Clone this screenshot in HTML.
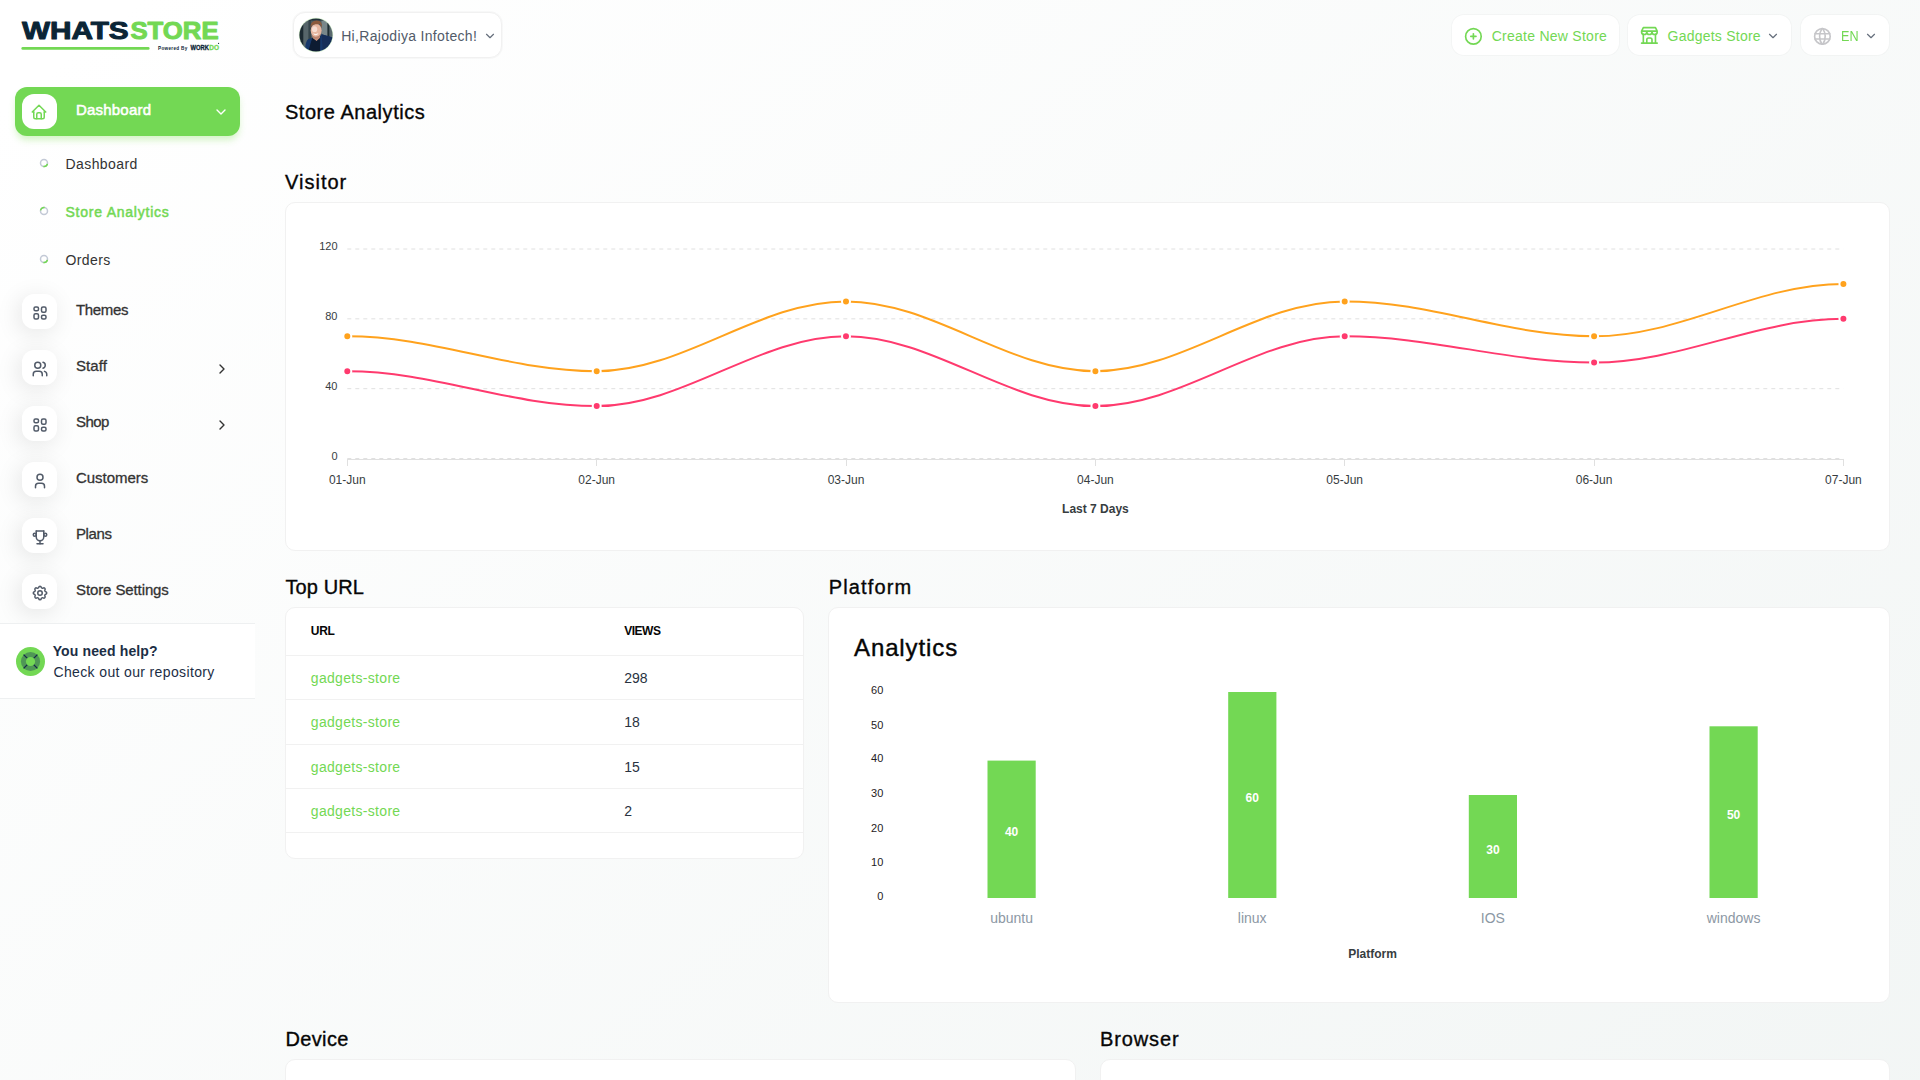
<!DOCTYPE html>
<html lang="en"><head><meta charset="utf-8"><title>Store Analytics</title>
<meta name="viewport" content="width=1920">
<style>
*{box-sizing:border-box;margin:0;padding:0}
html,body{width:1920px;height:1080px;overflow:hidden}
body{position:relative;font-family:"Liberation Sans",sans-serif;
 background:#fff}
.bg{position:absolute;left:0;top:0;width:1920px;height:1550px;background:linear-gradient(141.55deg,rgba(240,244,243,0) 3.46%,#f0f4f3 99.86%)}
.t{position:absolute;white-space:nowrap}
.ic{position:absolute;display:block;overflow:visible}
.abs{position:absolute}
.card{position:absolute;background:#fff;border:1px solid #f1f1f1;border-radius:10px}
.ibox{position:absolute;width:35px;height:35px;border-radius:12px;background:#fff;box-shadow:-3px 4px 23px rgba(0,0,0,0.1)}
.hbtn{position:absolute;background:#fff;border-radius:12px;box-shadow:0 0 0 1px rgba(0,0,0,0.022)}
</style></head><body>
<div class="bg"></div>
<nav aria-label="Sidebar"><svg class="abs" style="left:0;top:0" width="260" height="70" viewBox="0 0 260 70"><text x="21.9" y="38.85" font-family="Liberation Sans, sans-serif" font-weight="700" font-size="24.3" fill="#0b2536" stroke="#0b2536" stroke-width="1" stroke-linejoin="round" textLength="106.8" lengthAdjust="spacingAndGlyphs">WHATS</text><text x="130.4" y="38.85" font-family="Liberation Sans, sans-serif" font-weight="700" font-size="24.3" fill="#73d854" stroke="#73d854" stroke-width="1" stroke-linejoin="round" textLength="88.2" lengthAdjust="spacingAndGlyphs">STORE</text><line x1="22.7" y1="48.4" x2="148.3" y2="48.4" stroke="#73d854" stroke-width="2.6" stroke-linecap="round"/><text x="158" y="50.1" font-family="Liberation Sans, sans-serif" font-weight="700" font-size="4.6" fill="#0b2536" textLength="29.3" lengthAdjust="spacing">Powered By</text><text x="190.6" y="50.1" font-family="Liberation Sans, sans-serif" font-weight="700" font-size="6.4" fill="#0b2536" stroke="#0b2536" stroke-width="0.3" textLength="18.3" lengthAdjust="spacingAndGlyphs">WORK</text><text x="209.3" y="50.1" font-family="Liberation Sans, sans-serif" font-weight="700" font-size="6.4" fill="#73d854" stroke="#73d854" stroke-width="0.3" textLength="9.7" lengthAdjust="spacingAndGlyphs">DO</text><circle cx="218.6" cy="43.4" r="0.55" fill="#0b2536"/></svg>
<div class="abs" style="left:15px;top:87px;width:225px;height:49px;border-radius:12px;background:#73d854;box-shadow:0 5px 7px -1px rgba(111,217,67,0.3)"></div>
<div class="ibox" style="left:22px;top:94px;box-shadow:none"></div>
<svg class="ic" style="left:30.5px;top:103.6px;margin:-0.4px 0 0 -0.4px;" width="18" height="18" viewBox="0 0 24 24" fill="none" stroke="#73d854" stroke-width="2" stroke-linecap="round" stroke-linejoin="round"><polyline points="5 12 3 12 12 3 21 12 19 12"/><path d="M5 12v7a2 2 0 0 0 2 2h10a2 2 0 0 0 2 -2v-7"/><path d="M9 21v-6a2 2 0 0 1 2 -2h2a2 2 0 0 1 2 2v6"/></svg>
<div class="t" style="left:76px;top:99.10px;font-size:15px;line-height:22px;color:#fff;letter-spacing:0.201px;-webkit-text-stroke:0.55px #fff;">Dashboard</div>
<svg class="ic" style="left:212.5px;top:103.6px;" width="16" height="16" viewBox="0 0 24 24" fill="none" stroke="#fff" stroke-width="2.1" stroke-linecap="round" stroke-linejoin="round"><polyline points="6 9 12 15 18 9"/></svg>
<svg class="ic" style="left:38.2px;top:157.4px" width="12" height="12" viewBox="0 0 12 12"><circle cx="6" cy="6" r="3.5" fill="none" stroke="#c3c9d6" stroke-width="1.5"/><path d="M9.38 6.91A3.5 3.5 0 0 1 5.39 9.45" fill="none" stroke="#73d854" stroke-width="1.5"/></svg>
<div class="t" style="left:65.5px;top:153.65px;font-size:14px;line-height:21px;color:#333;letter-spacing:0.412px;">Dashboard</div>
<svg class="ic" style="left:38.2px;top:205.4px" width="12" height="12" viewBox="0 0 12 12"><circle cx="6" cy="6" r="3.5" fill="none" stroke="#c3c9d6" stroke-width="1.5"/><path d="M2.55 5.39A3.5 3.5 0 0 1 6.61 2.55" fill="none" stroke="#73d854" stroke-width="1.5"/></svg>
<div class="t" style="left:65.5px;top:201.65px;font-size:14px;line-height:21px;color:#73d854;letter-spacing:0.765px;-webkit-text-stroke:0.5px #73d854;">Store Analytics</div>
<svg class="ic" style="left:38.2px;top:253.39999999999998px" width="12" height="12" viewBox="0 0 12 12"><circle cx="6" cy="6" r="3.5" fill="none" stroke="#c3c9d6" stroke-width="1.5"/><path d="M9.38 6.91A3.5 3.5 0 0 1 5.39 9.45" fill="none" stroke="#73d854" stroke-width="1.5"/></svg>
<div class="t" style="left:65.5px;top:249.65px;font-size:14px;line-height:21px;color:#333;letter-spacing:0.401px;">Orders</div>
<div class="ibox" style="left:22px;top:294px"></div>
<svg class="ic" style="left:30.5px;top:303.6px;" width="18" height="18" viewBox="0 0 24 24" fill="none" stroke="#525b69" stroke-width="2" stroke-linecap="round" stroke-linejoin="round"><rect x="4" y="4" width="6" height="5" rx="2"/><rect x="4" y="13" width="6" height="7" rx="2"/><rect x="14" y="4" width="6" height="7" rx="2"/><rect x="14" y="15" width="6" height="5" rx="2"/></svg>
<div class="t" style="left:76px;top:299.10px;font-size:15px;line-height:22px;color:#333;letter-spacing:-0.325px;-webkit-text-stroke:0.3px #333;">Themes</div>
<div class="ibox" style="left:22px;top:350px"></div>
<svg class="ic" style="left:30.5px;top:359.6px;" width="18" height="18" viewBox="0 0 24 24" fill="none" stroke="#525b69" stroke-width="2" stroke-linecap="round" stroke-linejoin="round"><circle cx="9" cy="7" r="4"/><path d="M3 21v-2a4 4 0 0 1 4 -4h4a4 4 0 0 1 4 4v2"/><path d="M16 3.13a4 4 0 0 1 0 7.75"/><path d="M21 21v-2a4 4 0 0 0 -3 -3.85"/></svg>
<div class="t" style="left:76px;top:355.10px;font-size:15px;line-height:22px;color:#333;letter-spacing:0.09px;-webkit-text-stroke:0.3px #333;">Staff</div>
<svg class="ic" style="left:213.7px;top:361px;" width="16" height="16" viewBox="0 0 24 24" fill="none" stroke="#333" stroke-width="2.1" stroke-linecap="round" stroke-linejoin="round"><polyline points="9 6 15 12 9 18"/></svg>
<div class="ibox" style="left:22px;top:406px"></div>
<svg class="ic" style="left:30.5px;top:415.6px;" width="18" height="18" viewBox="0 0 24 24" fill="none" stroke="#525b69" stroke-width="2" stroke-linecap="round" stroke-linejoin="round"><rect x="4" y="4" width="6" height="5" rx="2"/><rect x="4" y="13" width="6" height="7" rx="2"/><rect x="14" y="4" width="6" height="7" rx="2"/><rect x="14" y="15" width="6" height="5" rx="2"/></svg>
<div class="t" style="left:76px;top:411.10px;font-size:15px;line-height:22px;color:#333;letter-spacing:-0.585px;-webkit-text-stroke:0.3px #333;">Shop</div>
<svg class="ic" style="left:213.7px;top:417px;" width="16" height="16" viewBox="0 0 24 24" fill="none" stroke="#333" stroke-width="2.1" stroke-linecap="round" stroke-linejoin="round"><polyline points="9 6 15 12 9 18"/></svg>
<div class="ibox" style="left:22px;top:462px"></div>
<svg class="ic" style="left:30.5px;top:471.6px;" width="18" height="18" viewBox="0 0 24 24" fill="none" stroke="#525b69" stroke-width="2" stroke-linecap="round" stroke-linejoin="round"><circle cx="12" cy="7" r="4"/><path d="M6 21v-2a4 4 0 0 1 4 -4h4a4 4 0 0 1 4 4v2"/></svg>
<div class="t" style="left:76px;top:467.10px;font-size:15px;line-height:22px;color:#333;letter-spacing:-0.039px;-webkit-text-stroke:0.3px #333;">Customers</div>
<div class="ibox" style="left:22px;top:518px"></div>
<svg class="ic" style="left:30.5px;top:527.6px;" width="18" height="18" viewBox="0 0 24 24" fill="none" stroke="#525b69" stroke-width="2" stroke-linecap="round" stroke-linejoin="round"><line x1="8" y1="21" x2="16" y2="21"/><line x1="12" y1="17" x2="12" y2="21"/><line x1="7" y1="4" x2="17" y2="4"/><path d="M17 4v8a5 5 0 0 1 -10 0v-8"/><circle cx="5" cy="9" r="2"/><circle cx="19" cy="9" r="2"/></svg>
<div class="t" style="left:76px;top:523.10px;font-size:15px;line-height:22px;color:#333;letter-spacing:-0.385px;-webkit-text-stroke:0.3px #333;">Plans</div>
<div class="ibox" style="left:22px;top:574px"></div>
<svg class="ic" style="left:30.5px;top:583.6px;" width="18" height="18" viewBox="0 0 24 24" fill="none" stroke="#525b69" stroke-width="2" stroke-linecap="round" stroke-linejoin="round"><path d="M10.325 4.317c.426 -1.756 2.924 -1.756 3.35 0a1.724 1.724 0 0 0 2.573 1.066c1.543 -.94 3.31 .826 2.37 2.37a1.724 1.724 0 0 0 1.065 2.572c1.756 .426 1.756 2.924 0 3.35a1.724 1.724 0 0 0 -1.066 2.573c.94 1.543 -.826 3.31 -2.37 2.37a1.724 1.724 0 0 0 -2.572 1.065c-.426 1.756 -2.924 1.756 -3.35 0a1.724 1.724 0 0 0 -2.573 -1.066c-1.543 .94 -3.31 -.826 -2.37 -2.37a1.724 1.724 0 0 0 -1.065 -2.572c-1.756 -.426 -1.756 -2.924 0 -3.35a1.724 1.724 0 0 0 1.066 -2.573c-.94 -1.543 .826 -3.31 2.37 -2.37c1 .608 2.296 .07 2.572 -1.065z"/><circle cx="12" cy="12" r="3"/></svg>
<div class="t" style="left:76px;top:579.10px;font-size:15px;line-height:22px;color:#333;letter-spacing:-0.105px;-webkit-text-stroke:0.3px #333;">Store Settings</div>
<div class="abs" style="left:0;top:623px;width:255px;height:76px;background:#fff;border-top:1px solid #eef0f1;border-bottom:1px solid #eef0f1"></div>
<svg class="ic" style="left:16px;top:646.5px" width="29" height="29" viewBox="0 0 29 29"><circle cx="14.5" cy="14.5" r="14.5" fill="#73d854"/><circle cx="14.5" cy="14.5" r="9.6" fill="#4f9756"/><path d="M7.6 7.6l13.8 13.8M21.4 7.6L7.6 21.4" stroke="#16284a" stroke-width="1.3"/><circle cx="14.5" cy="14.5" r="4.6" fill="#73d854"/></svg>
<div class="t" style="left:52.7px;top:640.95px;font-size:14px;line-height:21px;color:#1c2e45;font-weight:700;letter-spacing:0.133px;">You need help?</div>
<div class="t" style="left:53.5px;top:661.95px;font-size:14px;line-height:21px;color:#1c2e45;letter-spacing:0.36px;">Check out our repository</div></nav>
<header><div class="hbtn" style="left:293px;top:12px;width:209px;height:46px;border:1px solid #f1f1f1"></div>
<svg class="ic" style="left:299px;top:18px" width="34" height="34" viewBox="0 0 34 34"><defs><clipPath id="avc"><circle cx="17" cy="17" r="16.6"/></clipPath><filter id="avb" x="-10%" y="-10%" width="120%" height="120%"><feGaussianBlur stdDeviation="0.45"/></filter></defs><circle cx="17" cy="17" r="17.2" fill="#dcf4d4"/><g clip-path="url(#avc)"><g filter="url(#avb)"><rect x="-2" y="-2" width="38" height="38" fill="#4b5b60"/><rect x="-2" y="-2" width="6.500" height="38" fill="#1c2a32"/><rect x="4.500" y="-2" width="5" height="38" fill="#56656a"/><rect x="9.500" y="-2" width="2.500" height="38" fill="#34444b"/><rect x="22.500" y="-2" width="6" height="38" fill="#78878a"/><rect x="28.500" y="-2" width="2" height="38" fill="#1f2d33"/><rect x="30.500" y="-2" width="6" height="38" fill="#5a696e"/><rect x="-2" y="-2" width="38" height="4.500" fill="#22333a"/><path d="M5.500 36L6.300 28.900Q7 22.500 9.400 21.100L13.500 19.800 17.700 23 22.600 16.200 32.800 19.200 36 21V36z" fill="#17396b"/><path d="M22.600 16.200L32.800 19.200 36 21V36H24z" fill="#132d58"/><path d="M13.300 19.800L17.700 22.800 21.300 17.600 21 36H8.500z" fill="#0b1a30"/><path d="M13.800 16.500h6.600l.6 3.300-3.400 3.200-3.900-3z" fill="#c99079"/><ellipse cx="17.200" cy="12.600" rx="5.500" ry="6.900" fill="#e6b7a1"/><ellipse cx="15.600" cy="11.200" rx="2.600" ry="2.900" fill="#f6ddd2"/><path d="M12.300 16.300q4.600 5.200 9.400-.4-.8 4.600-4.600 4.800t-4.800-4.400z" fill="#b98470"/><path d="M11.700 10.200C11 5.200 13.600 2.400 17.700 2.400c3.900 0 5.900 2.700 5.100 7.600-.5-2.200-1.500-3.500-2.600-4.100-2.300.3-5.200.3-6.600 1.100-1 .6-1.500 1.600-1.900 3.200z" fill="#8b5a3d"/><path d="M14.200 15.200q2.500 1.700 5.200-.2-.7 2.200-2.600 2.300t-2.600-2.100z" fill="#fbf3ef"/></g></g></svg>
<div class="t" style="left:341.2px;top:25.55px;font-size:14px;line-height:21px;color:#525b69;letter-spacing:0.323px;">Hi,Rajodiya Infotech!</div>
<svg class="ic" style="left:482.5px;top:28.9px;" width="14" height="14" viewBox="0 0 24 24" fill="none" stroke="#666f7c" stroke-width="2.0" stroke-linecap="round" stroke-linejoin="round"><polyline points="6 9 12 15 18 9"/></svg>
<div class="hbtn" style="left:1452px;top:15px;width:167px;height:40px"></div>
<svg class="ic" style="left:1462.8px;top:25.5px;" width="20.8" height="20.8" viewBox="0 0 24 24" fill="none" stroke="#73d854" stroke-width="1.9" stroke-linecap="round" stroke-linejoin="round"><circle cx="12" cy="12" r="9"/><line x1="9" y1="12" x2="15" y2="12"/><line x1="12" y1="9" x2="12" y2="15"/></svg>
<div class="t" style="left:1491.7px;top:25.55px;font-size:14px;line-height:21px;color:#73d854;letter-spacing:0.259px;">Create New Store</div>
<div class="hbtn" style="left:1628px;top:15px;width:163px;height:40px"></div>
<svg class="ic" style="left:1639.2px;top:25.35px;" width="20.8" height="20.8" viewBox="0 0 24 24" fill="none" stroke="#73d854" stroke-width="1.9" stroke-linecap="round" stroke-linejoin="round"><line x1="3" y1="21" x2="21" y2="21"/><path d="M3 7v1a3 3 0 0 0 6 0v-1m0 1a3 3 0 0 0 6 0v-1m0 1a3 3 0 0 0 6 0v-1h-18l2 -4h14l2 4"/><line x1="5" y1="21" x2="5" y2="10.85"/><line x1="19" y1="21" x2="19" y2="10.85"/><path d="M9 21v-4a2 2 0 0 1 2 -2h2a2 2 0 0 1 2 2v4"/></svg>
<div class="t" style="left:1667.5px;top:25.55px;font-size:14px;line-height:21px;color:#73d854;letter-spacing:0.237px;">Gadgets Store</div>
<svg class="ic" style="left:1766.4px;top:29.1px;" width="14" height="14" viewBox="0 0 24 24" fill="none" stroke="#666f7c" stroke-width="2.0" stroke-linecap="round" stroke-linejoin="round"><polyline points="6 9 12 15 18 9"/></svg>
<div class="hbtn" style="left:1801px;top:15px;width:88px;height:40px"></div>
<svg class="ic" style="left:1811.8px;top:25.65px;" width="20.8" height="20.8" viewBox="0 0 24 24" fill="none" stroke="#c6c6c9" stroke-width="1.9" stroke-linecap="round" stroke-linejoin="round"><circle cx="12" cy="12" r="9"/><line x1="3.6" y1="9" x2="20.4" y2="9"/><line x1="3.6" y1="15" x2="20.4" y2="15"/><path d="M11.5 3a17 17 0 0 0 0 18"/><path d="M12.5 3a17 17 0 0 1 0 18"/></svg>
<div class="t" style="left:1840.5px;top:25.55px;font-size:14px;line-height:21px;color:#73d854;transform:scaleX(0.9);transform-origin:0 0;">EN</div>
<svg class="ic" style="left:1863.9px;top:28.9px;" width="14" height="14" viewBox="0 0 24 24" fill="none" stroke="#666f7c" stroke-width="2.0" stroke-linecap="round" stroke-linejoin="round"><polyline points="6 9 12 15 18 9"/></svg>
<div class="t" style="left:285px;top:96.82px;font-size:20px;line-height:30px;color:#060606;letter-spacing:0.531px;-webkit-text-stroke:0.35px #060606;">Store Analytics</div>
<div class="t" style="left:285px;top:166.82px;font-size:20px;line-height:30px;color:#060606;letter-spacing:1.005px;-webkit-text-stroke:0.35px #060606;">Visitor</div>
<div class="t" style="left:285.5px;top:572.07px;font-size:20px;line-height:30px;color:#060606;letter-spacing:0.09px;-webkit-text-stroke:0.35px #060606;">Top URL</div>
<div class="t" style="left:828.7px;top:572.07px;font-size:20px;line-height:30px;color:#060606;letter-spacing:1.137px;-webkit-text-stroke:0.35px #060606;">Platform</div>
<div class="t" style="left:285.4px;top:1024.37px;font-size:20px;line-height:30px;color:#060606;letter-spacing:0.374px;-webkit-text-stroke:0.35px #060606;">Device</div>
<div class="t" style="left:1100px;top:1024.37px;font-size:20px;line-height:30px;color:#060606;letter-spacing:0.868px;-webkit-text-stroke:0.35px #060606;">Browser</div></header>
<main>
<section aria-label="Visitor"><div class="card" style="left:285px;top:202px;width:1605px;height:349px"></div>
<svg class="abs" style="left:0;top:0" width="1920" height="560" viewBox="0 0 1920 560" font-family="Liberation Sans, sans-serif"><line x1="347.3" y1="458.50" x2="1843.4" y2="458.50" stroke="#e0e0e0" stroke-dasharray="4" stroke-width="1"/><text x="337.5" y="459.7" text-anchor="end" font-size="11" fill="#373d3f">0</text><line x1="347.3" y1="388.67" x2="1843.4" y2="388.67" stroke="#e0e0e0" stroke-dasharray="4" stroke-width="1"/><text x="337.5" y="389.9" text-anchor="end" font-size="11" fill="#373d3f">40</text><line x1="347.3" y1="318.83" x2="1843.4" y2="318.83" stroke="#e0e0e0" stroke-dasharray="4" stroke-width="1"/><text x="337.5" y="320.0" text-anchor="end" font-size="11" fill="#373d3f">80</text><line x1="347.3" y1="249.00" x2="1843.4" y2="249.00" stroke="#e0e0e0" stroke-dasharray="4" stroke-width="1"/><text x="337.5" y="250.2" text-anchor="end" font-size="11" fill="#373d3f">120</text><line x1="347" y1="459.5" x2="1844" y2="459.5" stroke="#e0e0e0" stroke-width="1"/><line x1="347.5" y1="459" x2="347.5" y2="466" stroke="#e0e0e0" stroke-width="1"/><text x="347.3" y="484" text-anchor="middle" font-size="12" fill="#373d3f">01-Jun</text><line x1="596.5" y1="459" x2="596.5" y2="466" stroke="#e0e0e0" stroke-width="1"/><text x="596.7" y="484" text-anchor="middle" font-size="12" fill="#373d3f">02-Jun</text><line x1="846.5" y1="459" x2="846.5" y2="466" stroke="#e0e0e0" stroke-width="1"/><text x="846.0" y="484" text-anchor="middle" font-size="12" fill="#373d3f">03-Jun</text><line x1="1095.5" y1="459" x2="1095.5" y2="466" stroke="#e0e0e0" stroke-width="1"/><text x="1095.4" y="484" text-anchor="middle" font-size="12" fill="#373d3f">04-Jun</text><line x1="1344.5" y1="459" x2="1344.5" y2="466" stroke="#e0e0e0" stroke-width="1"/><text x="1344.7" y="484" text-anchor="middle" font-size="12" fill="#373d3f">05-Jun</text><line x1="1594.5" y1="459" x2="1594.5" y2="466" stroke="#e0e0e0" stroke-width="1"/><text x="1594.1" y="484" text-anchor="middle" font-size="12" fill="#373d3f">06-Jun</text><line x1="1843.5" y1="459" x2="1843.5" y2="466" stroke="#e0e0e0" stroke-width="1"/><text x="1843.4" y="484" text-anchor="middle" font-size="12" fill="#373d3f">07-Jun</text><text x="1095.4" y="513" text-anchor="middle" font-size="12" font-weight="700" fill="#373d3f">Last 7 Days</text><path d="M347.30 336.29C434.57 336.29 509.38 371.21 596.65 371.21C683.92 371.21 758.73 301.38 846.00 301.38C933.27 301.38 1008.08 371.21 1095.35 371.21C1182.62 371.21 1257.43 301.38 1344.70 301.38C1431.97 301.38 1506.78 336.29 1594.05 336.29C1681.32 336.29 1756.13 283.92 1843.40 283.92" fill="none" stroke="#ffa21d" stroke-width="2" stroke-linecap="butt"/><path d="M347.30 371.21C434.57 371.21 509.38 406.12 596.65 406.12C683.92 406.12 758.73 336.29 846.00 336.29C933.27 336.29 1008.08 406.12 1095.35 406.12C1182.62 406.12 1257.43 336.29 1344.70 336.29C1431.97 336.29 1506.78 362.48 1594.05 362.48C1681.32 362.48 1756.13 318.83 1843.40 318.83" fill="none" stroke="#ff3a6e" stroke-width="2" stroke-linecap="butt"/><circle cx="347.3" cy="336.3" r="4" fill="#ffa21d" stroke="#fff" stroke-width="2"/><circle cx="596.7" cy="371.2" r="4" fill="#ffa21d" stroke="#fff" stroke-width="2"/><circle cx="846.0" cy="301.4" r="4" fill="#ffa21d" stroke="#fff" stroke-width="2"/><circle cx="1095.4" cy="371.2" r="4" fill="#ffa21d" stroke="#fff" stroke-width="2"/><circle cx="1344.7" cy="301.4" r="4" fill="#ffa21d" stroke="#fff" stroke-width="2"/><circle cx="1594.1" cy="336.3" r="4" fill="#ffa21d" stroke="#fff" stroke-width="2"/><circle cx="1843.4" cy="283.9" r="4" fill="#ffa21d" stroke="#fff" stroke-width="2"/><circle cx="347.3" cy="371.2" r="4" fill="#ff3a6e" stroke="#fff" stroke-width="2"/><circle cx="596.7" cy="406.1" r="4" fill="#ff3a6e" stroke="#fff" stroke-width="2"/><circle cx="846.0" cy="336.3" r="4" fill="#ff3a6e" stroke="#fff" stroke-width="2"/><circle cx="1095.4" cy="406.1" r="4" fill="#ff3a6e" stroke="#fff" stroke-width="2"/><circle cx="1344.7" cy="336.3" r="4" fill="#ff3a6e" stroke="#fff" stroke-width="2"/><circle cx="1594.1" cy="362.5" r="4" fill="#ff3a6e" stroke="#fff" stroke-width="2"/><circle cx="1843.4" cy="318.8" r="4" fill="#ff3a6e" stroke="#fff" stroke-width="2"/></svg></section>
<section aria-label="Top URL"><div class="card" style="left:285px;top:607px;width:519px;height:252px"></div>
<div class="abs" style="left:286px;top:654.9px;width:517px;height:1px;background:#f1f1f1"></div>
<div class="abs" style="left:286px;top:699.1px;width:517px;height:1px;background:#f1f1f1"></div>
<div class="abs" style="left:286px;top:743.5px;width:517px;height:1px;background:#f1f1f1"></div>
<div class="abs" style="left:286px;top:787.8px;width:517px;height:1px;background:#f1f1f1"></div>
<div class="abs" style="left:286px;top:832.0px;width:517px;height:1px;background:#f1f1f1"></div>
<div class="t" style="left:310.8px;top:622.04px;font-size:12px;line-height:18px;color:#060606;font-weight:700;letter-spacing:-0.269px;">URL</div>
<div class="t" style="left:624.3px;top:622.04px;font-size:12px;line-height:18px;color:#060606;font-weight:700;letter-spacing:-0.505px;">VIEWS</div>
<div class="t" style="left:310.8px;top:668.15px;font-size:14px;line-height:21px;color:#73d854;letter-spacing:0.311px;">gadgets-store</div>
<div class="t" style="left:624.3px;top:668.15px;font-size:14px;line-height:21px;color:#293240;">298</div>
<div class="t" style="left:310.8px;top:712.35px;font-size:14px;line-height:21px;color:#73d854;letter-spacing:0.311px;">gadgets-store</div>
<div class="t" style="left:624.3px;top:712.35px;font-size:14px;line-height:21px;color:#293240;">18</div>
<div class="t" style="left:310.8px;top:756.75px;font-size:14px;line-height:21px;color:#73d854;letter-spacing:0.311px;">gadgets-store</div>
<div class="t" style="left:624.3px;top:756.75px;font-size:14px;line-height:21px;color:#293240;">15</div>
<div class="t" style="left:310.8px;top:800.95px;font-size:14px;line-height:21px;color:#73d854;letter-spacing:0.311px;">gadgets-store</div>
<div class="t" style="left:624.3px;top:800.95px;font-size:14px;line-height:21px;color:#293240;">2</div></section>
<section aria-label="Platform"><div class="card" style="left:828px;top:607px;width:1062px;height:396px"></div>
<div class="t" style="left:854px;top:629.88px;font-size:24px;line-height:36px;color:#060606;letter-spacing:0.889px;-webkit-text-stroke:0.4px #060606;">Analytics</div>
<svg class="abs" style="left:0;top:560px" width="1920" height="520" viewBox="0 560 1920 520" font-family="Liberation Sans, sans-serif"><text x="883.3" y="900.2" text-anchor="end" font-size="11" fill="#1f2123">0</text><text x="883.3" y="865.9" text-anchor="end" font-size="11" fill="#1f2123">10</text><text x="883.3" y="831.5" text-anchor="end" font-size="11" fill="#1f2123">20</text><text x="883.3" y="797.2" text-anchor="end" font-size="11" fill="#1f2123">30</text><text x="883.3" y="762.0" text-anchor="end" font-size="11" fill="#1f2123">40</text><text x="883.3" y="728.5" text-anchor="end" font-size="11" fill="#1f2123">50</text><text x="883.3" y="694.2" text-anchor="end" font-size="11" fill="#1f2123">60</text><rect x="987.5" y="760.6" width="48.2" height="137.4" fill="#73d854"/><text x="1011.6" y="836.4" text-anchor="middle" font-size="12" font-weight="700" fill="#fff">40</text><text x="1011.6" y="923" text-anchor="middle" font-size="14" fill="#8c98a4">ubuntu</text><rect x="1228.2" y="692.0" width="48.2" height="206.0" fill="#73d854"/><text x="1252.2" y="802.1" text-anchor="middle" font-size="12" font-weight="700" fill="#fff">60</text><text x="1252.2" y="923" text-anchor="middle" font-size="14" fill="#8c98a4">linux</text><rect x="1468.8" y="795.0" width="48.2" height="103.0" fill="#73d854"/><text x="1492.9" y="853.6" text-anchor="middle" font-size="12" font-weight="700" fill="#fff">30</text><text x="1492.9" y="923" text-anchor="middle" font-size="14" fill="#8c98a4">IOS</text><rect x="1709.5" y="726.3" width="48.2" height="171.7" fill="#73d854"/><text x="1733.6" y="819.2" text-anchor="middle" font-size="12" font-weight="700" fill="#fff">50</text><text x="1733.6" y="923" text-anchor="middle" font-size="14" fill="#8c98a4">windows</text><text x="1372.5" y="958" text-anchor="middle" font-size="12" font-weight="700" fill="#373d3f">Platform</text></svg></section>
<section aria-label="Device and Browser"><div class="card" style="left:285px;top:1059px;width:791px;height:60px"></div><div class="card" style="left:1100px;top:1059px;width:790px;height:60px"></div></section>
</main>
</body></html>
